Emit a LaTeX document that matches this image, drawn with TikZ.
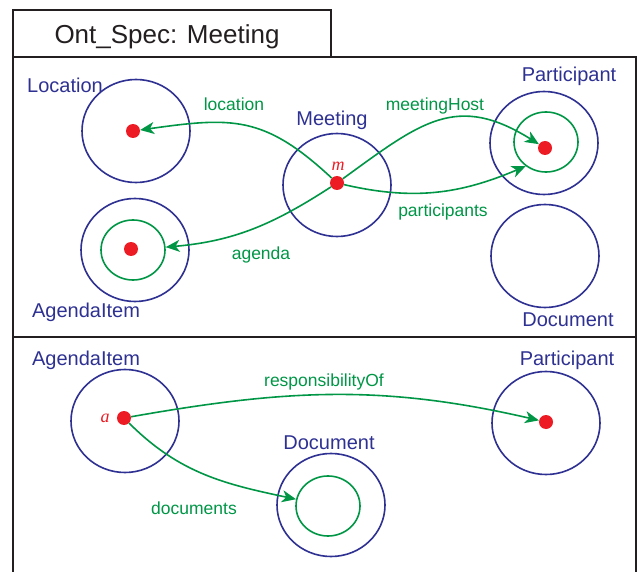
\documentclass[tikz,border=0pt]{standalone}
\usepackage{fontspec}
\setmainfont{Liberation Sans}
\newfontfamily\varfont{Liberation Serif}
\usetikzlibrary{arrows.meta,shapes.geometric}
\definecolor{clsblue}{RGB}{46,49,146}
\definecolor{relgreen}{RGB}{0,150,70}
\definecolor{instred}{RGB}{237,28,36}
\definecolor{boxgray}{RGB}{35,31,32}
\tikzset{
    %Define style for class extents
    cls/.style={
           ellipse,
           draw=clsblue, line width=1.6pt,
           minimum width=108pt,
           minimum height=103pt,
           inner sep=0pt},
    sub/.style={
           ellipse,
           draw=relgreen, line width=1.6pt,
           minimum width=64pt,
           minimum height=60pt,
           inner sep=0pt},
    inst/.style={
           circle,
           fill=instred,
           minimum size=14pt,
           inner sep=0pt},
    % Define text styles
    clsname/.style={
           text=clsblue,
           font=\fontsize{20}{24}\selectfont,
           inner sep=0pt},
    relname/.style={
           text=relgreen,
           font=\fontsize{17.5}{21}\selectfont,
           inner sep=0pt},
    instname/.style={
           text=instred,
           font=\varfont\itshape\fontsize{18}{21}\selectfont,
           inner sep=0pt},
    % Define arrow style
    rel/.style={
           -{Stealth[length=14pt,width=12pt,inset=4pt]},
           draw=relgreen,
           line width=1.6pt},
    panel/.style={
           draw=boxgray,
           line width=2pt}
}
\begin{document}
\begin{tikzpicture}[x=1pt,y=1pt]
        \useasboundingbox (0,0) rectangle (640,-572);
        %frames
        \draw[panel] (13,-57) rectangle (331,-10);
        \node[text=boxgray, font=\fontsize{26}{30}\selectfont, inner sep=0pt]
          (title) at (167,-37) {Ont\_Spec: Meeting};
        \draw[panel] (13,-57) rectangle (636,-337);
        \draw[panel] (13,-572) -- (13,-337) -- (636,-337) -- (636,-572);

        %upper panel: classes
        \node[cls] (loc) at (136,-131) {};
        \node[clsname] (locname) at (65,-85) {Location};
        \node[cls] (meet) at (337,-185) {};
        \node[clsname] (meetname) at (332,-120) {Meeting};
        \node[instname] (mname) at (338,-166) {m};
        \node[cls] (part) at (544,-143) {};
        \node[sub] (host) at (546,-142) {};
        \node[clsname] (partname) at (569,-76) {Participant};
        \node[cls] (doc) at (545,-256) {};
        \node[clsname] (docname) at (568,-320) {Document};
        \node[cls] (agd) at (135,-250) {};
        \node[sub] (agdsub) at (133,-250) {};
        \node[clsname] (agdname) at (86,-312) {AgendaItem};
        \node[inst] (locdot) at (133,-131) {};
        \node[inst] (mdot) at (337,-183) {};
        \node[inst] (hdot) at (545,-148) {};
        \node[inst] (agddot) at (131,-249) {};

        %upper panel: relations
        \draw[rel] (mdot) to[out=137,in=8,looseness=1.2] (locdot);
        \draw[rel] (mdot) to[out=-147,in=5] (agdsub);
        \draw[rel] (mdot) to[out=36,in=148,looseness=1.25] (hdot);
        \draw[rel] (mdot) to[out=-13,in=203] (host.230);
        \node[relname] (locrel) at (234,-104) {location};
        \node[relname] (hostrel) at (435,-106) {meetingHost};
        \node[relname] (partrel) at (443,-212) {participants};
        \node[relname] (agdrel) at (261,-255) {agenda};

        %lower panel: classes
        \node[cls] (agd2) at (125,-421) {};
        \node[clsname] (agd2name) at (86,-360) {AgendaItem};
        \node[instname] (aname) at (105,-418) {a};
        \node[cls] (part2) at (546,-423) {};
        \node[clsname] (part2name) at (567,-360) {Participant};
        \node[cls] (doc2) at (331,-505) {};
        \node[sub] (docsub) at (328,-506) {};
        \node[clsname] (doc2name) at (329,-443) {Document};
        \node[inst] (adot) at (124,-418) {};
        \node[inst] (pdot) at (546,-422) {};

        %lower panel: relations
        \draw[rel] (adot) to[out=10,in=167] (pdot);
        \draw[rel] (adot) to[out=-45,in=168] (docsub);
        \node[relname] (resprel) at (324,-382) {responsibilityOf};
        \node[relname] (docrel) at (194,-508) {documents};
\end{tikzpicture}
\end{document}
